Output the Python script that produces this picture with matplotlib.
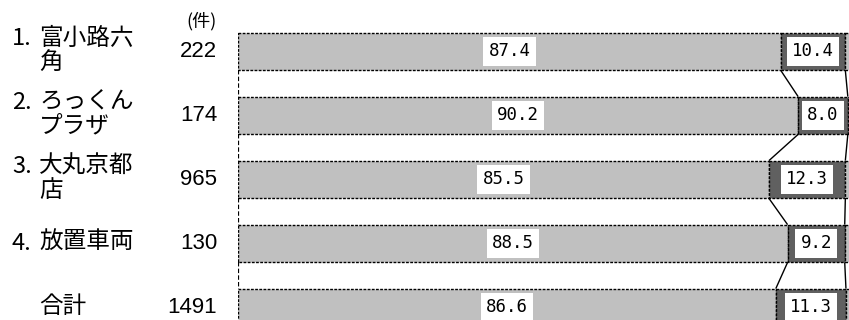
import matplotlib
matplotlib.use("Agg")
import matplotlib.pyplot as plt
import matplotlib.transforms as mtransforms

prefixes = ["1.", "2.", "3.", "4.", ""]
names = ["富小路六\n角", "ろっくん\nプラザ", "大丸京都\n店", "放置車両", "合計"]
counts = ["222", "174", "965", "130", "1491"]
seg1 = [87.4, 90.2, 85.5, 88.5, 86.6]
seg2 = [10.4, 8.0, 12.3, 9.2, 11.3]
seg3 = [round(100 - a - b, 1) for a, b in zip(seg1, seg2)]
unit_label = "(件)"

W, H = 849, 320
fig = plt.figure(figsize=(W / 100, H / 100), dpi=100)
# axes spans beyond the figure (the reference is cropped)
left_px, right_px = 238, 859
top_px, bot_px = 19.5, 339.5
ax = fig.add_axes([left_px / W, (H - bot_px) / H, (right_px - left_px) / W, (bot_px - top_px) / H])
ax.set_xlim(0, 100)
ax.set_ylim(len(names) - 0.5, -0.5)
ax.axis("off")

bh = 0.59
ys = list(range(len(names)))
edge_ls = (0, (2, 1))
light, dark = "#c0c0c0", "#606060"

ax.barh(ys, seg1, height=bh, color=light, edgecolor="black", linewidth=1.0, linestyle=edge_ls)
ax.barh(ys, seg2, left=seg1, height=bh, color=dark, edgecolor="black", linewidth=1.0, linestyle=edge_ls)
left3 = [a + b for a, b in zip(seg1, seg2)]
ax.barh(ys, seg3, left=left3, height=bh, color=light, edgecolor="black", linewidth=1.0, linestyle=edge_ls)

# connector lines between bars
for i in range(len(ys) - 1):
    for ca, cb in [(0, 0), (seg1[i], seg1[i + 1]), (left3[i], left3[i + 1]), (100, 100)]:
        ax.plot([ca, cb], [ys[i] + bh / 2, ys[i + 1] - bh / 2], color="black",
                linewidth=1.6 if ca == 0 else 1.0,
                linestyle=edge_ls if ca == 0 else "-", solid_capstyle="butt")

mono = ["DejaVu Sans Mono"]
for i, y in enumerate(ys):
    ax.text(seg1[i] / 2, y, f"{seg1[i]:.1f}", ha="center", va="center", fontsize=12.5, family=mono,
            bbox=dict(boxstyle="square,pad=0.3", facecolor="white", edgecolor="none"))
    ax.text(seg1[i] + seg2[i] / 2, y, f"{seg2[i]:.1f}", ha="center", va="center", fontsize=12.5, family=mono,
            bbox=dict(boxstyle="square,pad=0.3", facecolor="white", edgecolor="none"))

jp = ["Noto Sans CJK JP", "DejaVu Sans"]
num_font = ["Liberation Sans", "DejaVu Sans"]
trans = mtransforms.blended_transform_factory(fig.transFigure, ax.transData)
for i, y in enumerate(ys):
    nlines = names[i].count("\n") + 1
    if prefixes[i]:
        first_y = y - (0.2 if nlines == 2 else 0)
        ax.text(12 / W, first_y, prefixes[i], transform=trans, ha="left", va="center", fontsize=17, family=jp)
    ax.text(39 / W, y - 0.02, names[i], transform=trans, ha="left", va="center", fontsize=17, family=jp,
            linespacing=1.05)
    ax.text(217 / W, y, counts[i], transform=trans, ha="right", va="center", fontsize=16, family=num_font)

fig.text(217 / W, 1 - 21 / H, unit_label, ha="right", va="center", fontsize=13, family=jp)

fig.savefig("out.png", dpi=100)
